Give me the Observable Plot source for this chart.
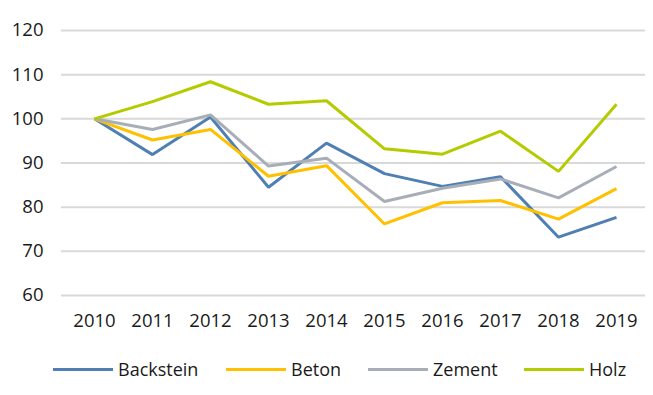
<!DOCTYPE html>
<html>
<head>
<meta charset="utf-8">
<script src="https://cdn.jsdelivr.net/npm/d3@7"></script>
<script src="https://cdn.jsdelivr.net/npm/@observablehq/plot@0.6"></script>
<style>
  html, body { margin: 0; padding: 0; background: #fff; }
  body { width: 653px; height: 395px; overflow: hidden; font-family: "Open Sans", sans-serif; }
  #legend { position: relative; height: 50px; }
  .item { position: absolute; top: 12px; display: flex; align-items: center; font-size: 18px; color: #1a1a1a; }
  .sw { width: 60px; height: 3px; margin-right: 5px; }
</style>
</head>
<body>
<div id="chart"></div>
<div id="legend"></div>
<script>
const years = [2010, 2011, 2012, 2013, 2014, 2015, 2016, 2017, 2018, 2019];
const seriesNames = ["Backstein", "Beton", "Zement", "Holz"];
const backstein = [100, 91.9, 100.4, 84.5, 94.5, 87.6, 84.7, 86.9, 73.2, 77.7];
const beton     = [100, 95.2, 97.6, 87.0, 89.4, 76.2, 81.0, 81.5, 77.3, 84.2];
const zement    = [100, 97.6, 100.9, 89.3, 91.1, 81.3, 84.3, 86.4, 82.1, 89.2];
const holz      = [100, 103.9, 108.4, 103.3, 104.1, 93.2, 92.0, 97.2, 88.1, 103.3];
const colors = ["#4f7fb3", "#ffc000", "#a8aeb7", "#b4cb00"];
const yTicks = [60, 70, 80, 90, 100, 110, 120];

const valuesList = [backstein, beton, zement, holz];
const data = [];
seriesNames.forEach((s, i) => years.forEach((y, j) => data.push({year: String(y), series: s, value: valuesList[i][j]})));

const chart = Plot.plot({
  width: 653,
  height: 345,
  marginTop: 30,
  marginBottom: 50,
  marginLeft: 61,
  marginRight: 8,
  insetLeft: 3,
  style: {fontFamily: "Open Sans, sans-serif", fontSize: "18.5px", color: "#1a1a1a"},
  x: {type: "point", domain: years.map(String), padding: 0.5, label: null, tickSize: 0, tickPadding: 18},
  y: {domain: [60, 120], ticks: yTicks, label: null, tickSize: 0, tickPadding: 18},
  color: {domain: seriesNames, range: colors},
  marks: [
    Plot.ruleY(yTicks, {stroke: "#d9d9d9", strokeWidth: 2}),
    Plot.line(data, {x: "year", y: "value", z: "series", stroke: "series", strokeWidth: 3, strokeLinejoin: "miter", strokeLinecap: "butt"})
  ]
});
document.getElementById("chart").appendChild(chart);

const legendX = [53, 226, 368, 524];
const legend = document.getElementById("legend");
seriesNames.forEach((s, i) => {
  const d = document.createElement("div");
  d.className = "item";
  d.style.left = legendX[i] + "px";
  d.innerHTML = `<span class="sw" style="background:${colors[i]}"></span><span>${s}</span>`;
  legend.appendChild(d);
});
</script>
</body>
</html>
